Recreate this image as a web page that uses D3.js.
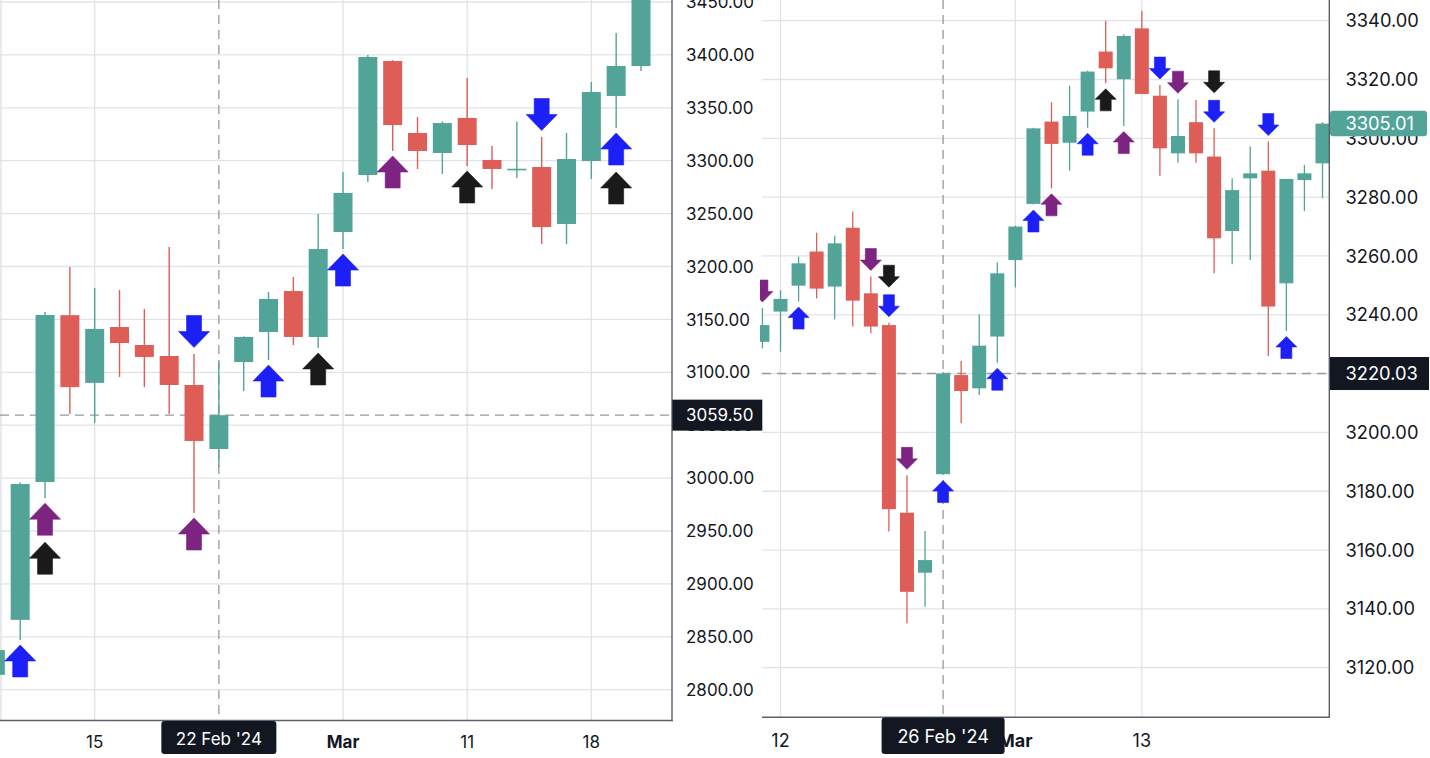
<!DOCTYPE html>
<html><head><meta charset="utf-8">
<script src="https://cdn.jsdelivr.net/npm/d3@7"></script>
<style>
body{margin:0;background:#fff;}
svg{display:block;}
text{font-family:Inter,"Noto Sans",sans-serif;}
</style>
</head><body>
<svg id="c" width="1430" height="758"></svg>
<script>
// ---------------- DATA ----------------
// Left chart: bar index -1..25
const leftIndex = [-1,0,1,2,3,4,5,6,7,8,9,10,11,12,13,14,15,16,17,18,19,20,21,22,23,24,25];
const leftOpen  = [2814,2866,2996.3,3154,3090,3142.8,3125.8,3115.4,3088,3027.5,3109.7,3138.1,3176.8,3133.4,3232.6,3286.5,3394.2,3326.2,3307.3,3340.4,3300.7,3291.6,3294,3240.2,3299.7,3361.2,3389.5];
const leftHigh  = [2840,2996,3157,3199.5,3179.7,3177.8,3159.8,3218.4,3117.3,3109.7,3134,3175.9,3190.1,3249.6,3289.3,3400,3395,3341.3,3337,3378.2,3313.9,3337,3322.4,3326.2,3374.4,3420.7,3480];
const leftLow   = [2810,2847,2981,3060.6,3052,3095.6,3086,3060.6,2967,3010.5,3082.3,3111.6,3125.8,3123,3216.5,3279.9,3309.2,3292.2,3287.4,3295,3273.3,3283.6,3221.3,3221.3,3282.7,3330.9,3384.8];
const leftClose = [2837.5,2994.4,3154.2,3086,3141,3127.7,3114.5,3088,3035.1,3059.5,3133.4,3169.3,3133.4,3216.5,3269.5,3398,3333.7,3309.2,3335.6,3314.8,3292.2,3292.4,3237.3,3301.6,3364.9,3389.5,3470];
const leftTicks = [{i:3,label:"15"},{i:13,label:"Mar",bold:true},{i:18,label:"11"},{i:23,label:"18"}];
const leftYTicks = d3.range(2800, 3451, 50);
const leftMarkers = [
  {i:0,pos:"below",color:"blue"},
  {i:1,pos:"below",color:"purple"},{i:1,pos:"below",color:"black"},
  {i:7,pos:"above",color:"blue"},{i:7,pos:"below",color:"purple"},
  {i:10,pos:"below",color:"blue"},
  {i:12,pos:"below",color:"black"},
  {i:13,pos:"below",color:"blue"},
  {i:15,pos:"below",color:"purple"},
  {i:18,pos:"below",color:"black"},
  {i:21,pos:"above",color:"blue"},
  {i:24,pos:"below",color:"blue"},{i:24,pos:"below",color:"black"}
];
const leftCrossIndex = 8, leftCrossPrice = 3059.50, leftCrossDate = "22 Feb '24";

// Right chart: bar index -1..30
const rightIndex = [-1,0,1,2,3,4,5,6,7,8,9,10,11,12,13,14,15,16,17,18,19,20,21,22,23,24,25,26,27,28,29,30];
const rightOpen  = [3230.8,3241.1,3249.9,3261.5,3249.6,3269.6,3247.3,3236.5,3172.7,3152.3,3185.8,3219.5,3215,3232.6,3258.6,3277.7,3305.7,3298.5,3309.1,3329.5,3320.1,3337.4,3314.5,3294.9,3305.5,3293.8,3268.5,3286.4,3289,3250.7,3285.8,3291.5];
const rightHigh  = [3242.3,3248.4,3259.8,3267.9,3266.9,3275.1,3253,3237.3,3185.4,3166.5,3220.5,3224.3,3240.2,3257.8,3270.3,3303.6,3312.3,3317.9,3323,3340,3335.4,3343.3,3318.1,3313.3,3313,3303.4,3286.4,3297.2,3298.9,3286.2,3290.9,3305.5];
const rightLow   = [3228.6,3227.4,3244.5,3245.6,3238.5,3236,3233.7,3166.3,3135.1,3140.7,3185.5,3203.1,3212.7,3223.7,3249.3,3277.5,3283,3289,3303.6,3318.7,3304.2,3315,3287.3,3291.7,3291.7,3254.1,3257.2,3258.6,3226,3234.5,3275.3,3279.6];
const rightClose = [3236.5,3245.4,3257.5,3248.9,3264.3,3244.8,3236,3173.9,3145.8,3156.6,3220.03,3214.1,3229.5,3254.1,3270,3303.4,3298.1,3307.6,3322.7,3323.8,3334.8,3315.1,3296.6,3300.8,3294.9,3266,3282.4,3288.1,3242.8,3286.2,3288.1,3305.01];
const rightTicks = [{i:0,label:"12"},{i:13,label:"Mar",bold:true},{i:20,label:"13"}];
const rightYTicks = d3.range(3120, 3341, 20);
const rightMarkers = [
  {i:-1,pos:"above",color:"purple"},
  {i:1,pos:"below",color:"blue"},
  {i:5,pos:"above",color:"purple"},
  {i:6,pos:"above",color:"blue"},{i:6,pos:"above",color:"black"},
  {i:7,pos:"above",color:"purple"},
  {i:9,pos:"below",color:"blue"},
  {i:12,pos:"below",color:"blue"},
  {i:14,pos:"below",color:"blue"},
  {i:15,pos:"below",color:"purple"},
  {i:17,pos:"below",color:"blue"},
  {i:18,pos:"below",color:"black"},
  {i:19,pos:"below",color:"purple"},
  {i:21,pos:"above",color:"blue"},
  {i:22,pos:"above",color:"purple"},
  {i:24,pos:"above",color:"blue"},{i:24,pos:"above",color:"black"},
  {i:27,pos:"above",color:"blue"},
  {i:28,pos:"below",color:"blue"}
];
const rightCrossIndex = 9, rightCrossPrice = 3220.03, rightCrossDate = "26 Feb '24";
const rightLastPrice = 3305.01;

// ---------------- STYLE ----------------
const UP = "#52a499", DOWN = "#de5e57";
const markerColors = {blue:"#1c20f6", purple:"#7d2382", black:"#1a1a1a"};
const GRID = "#e0e3e7", BORDER = "#5d606b", TEXT = "#131722", CROSS = "#9598a1", LABELBG = "#131722";

const svg = d3.select("#c");
svg.append("rect").attr("width",1430).attr("height",758).attr("fill","#fff");
const defs = svg.append("defs");

function arrowPath(cx, top, dir, w, h, headH, shaftW){
  // dir: "up" -> tip at top; "down" -> tip at bottom
  if(dir==="up"){
    return `M${cx},${top} L${cx+w/2},${top+headH} L${cx+shaftW/2},${top+headH} L${cx+shaftW/2},${top+h} L${cx-shaftW/2},${top+h} L${cx-shaftW/2},${top+headH} L${cx-w/2},${top+headH} Z`;
  } else {
    const b = top+h;
    return `M${cx},${b} L${cx+w/2},${b-headH} L${cx+shaftW/2},${b-headH} L${cx+shaftW/2},${top} L${cx-shaftW/2},${top} L${cx-shaftW/2},${b-headH} L${cx-w/2},${b-headH} Z`;
  }
}

function panel(cfg){
  const {id, index, open, high, low, close, x, y, plot, ticks, yTicks, markers, bodyW, wickW, arrow, fontY, fontX, cross} = cfg;
  const data = index.map((d,k)=>({i:d,o:open[k],h:high[k],l:low[k],c:close[k]}));
  defs.append("clipPath").attr("id","clip"+id).append("rect")
    .attr("x",plot.clipX0).attr("y",0).attr("width",plot.x1-plot.clipX0).attr("height",plot.y1);
  const g = svg.append("g");
  // horizontal grid
  g.append("g").selectAll("line").data(yTicks).join("line")
    .attr("x1",plot.x0).attr("x2",plot.x1).attr("y1",d=>y(d)).attr("y2",d=>y(d))
    .attr("stroke",GRID).attr("stroke-width",1.3);
  // vertical grid
  g.append("g").selectAll("line").data(ticks).join("line")
    .attr("x1",d=>x(d.i)).attr("x2",d=>x(d.i)).attr("y1",0).attr("y2",plot.y1)
    .attr("stroke",GRID).attr("stroke-width",1.3);
  if(plot.leftEdge!==undefined){
    g.append("line").attr("x1",plot.leftEdge).attr("x2",plot.leftEdge).attr("y1",0).attr("y2",plot.y1)
      .attr("stroke",GRID).attr("stroke-width",1.5);
  }
  const cg = g.append("g").attr("clip-path",`url(#clip${id})`);
  // crosshair lines
  cg.append("line").attr("x1",plot.x0).attr("x2",plot.x1).attr("y1",y(cross.price)).attr("y2",y(cross.price))
    .attr("stroke",CROSS).attr("stroke-width",1.3).attr("stroke-dasharray","9,6");
  cg.append("line").attr("x1",x(cross.index)).attr("x2",x(cross.index)).attr("y1",0).attr("y2",plot.y1)
    .attr("stroke",CROSS).attr("stroke-width",1.3).attr("stroke-dasharray","9,6");
  // candles
  const cd = cg.append("g").selectAll("g").data(data).join("g");
  cd.append("line").attr("x1",d=>x(d.i)).attr("x2",d=>x(d.i))
    .attr("y1",d=>y(d.h)).attr("y2",d=>y(d.l))
    .attr("stroke",d=>d.c>=d.o?UP:DOWN).attr("stroke-width",wickW);
  cd.append("rect").attr("x",d=>x(d.i)-bodyW/2).attr("width",bodyW)
    .attr("y",d=>y(Math.max(d.o,d.c)))
    .attr("height",d=>Math.max(1.6, Math.abs(y(d.o)-y(d.c))))
    .attr("fill",d=>d.c>=d.o?UP:DOWN);
  // markers
  const slots = {};
  const byIdx = new Map(data.map(d=>[d.i,d]));
  markers.forEach(m=>{
    const d = byIdx.get(m.i);
    const key = m.i+"_"+m.pos;
    const s = slots[key]||0; slots[key]=s+1;
    let top;
    if(m.pos==="below"){
      top = y(d.l) + arrow.gapBelow + s*(arrow.h+arrow.stack);
    } else {
      top = y(d.h) - arrow.gapAbove - arrow.h - s*(arrow.h+arrow.stack);
    }
    cg.append("path").attr("d",arrowPath(x(m.i), top, m.pos==="below"?"up":"down", arrow.w, arrow.h, arrow.headH, arrow.shaftW))
      .attr("fill",markerColors[m.color]).attr("stroke",markerColors[m.color]).attr("stroke-width",0.6).attr("stroke-linejoin","round");
  });
  // borders
  g.append("line").attr("x1",plot.x1).attr("x2",plot.x1).attr("y1",0).attr("y2",plot.y1+0.7)
    .attr("stroke",BORDER).attr("stroke-width",1.4);
  g.append("line").attr("x1",plot.x0).attr("x2",plot.x1+0.7).attr("y1",plot.y1).attr("y2",plot.y1)
    .attr("stroke",BORDER).attr("stroke-width",1.4);
  // y axis labels
  const fmt = d3.format(".2f");
  g.append("g").selectAll("text").data(yTicks).join("text")
    .attr("x",plot.labelX).attr("y",d=>y(d)).attr("dy","0.36em")
    .attr("font-size",fontY).attr("fill",TEXT).text(d=>fmt(d));
  // x axis labels
  g.append("g").selectAll("text").data(ticks).join("text")
    .attr("x",d=>x(d.i)).attr("y",plot.xLabelY).attr("dy","0.36em").attr("text-anchor","middle")
    .attr("font-size",fontX).attr("font-weight",d=>d.bold?700:400).attr("fill",TEXT).text(d=>d.label);
  return {g, fmt};
}

// ---------------- LEFT PANEL ----------------
const xL = d3.scaleLinear().domain([0,25]).range([20.2,641]);
const yL = d3.scaleLinear().domain([2800,3450]).range([689.7,2]);
const L = panel({id:"L", index:leftIndex, open:leftOpen, high:leftHigh, low:leftLow, close:leftClose,
  x:xL, y:yL, plot:{x0:0, clipX0:0, x1:672, y1:720.5, labelX:686, xLabelY:741.5, leftEdge:1},
  ticks:leftTicks, yTicks:leftYTicks, markers:leftMarkers, bodyW:19, wickW:1.4,
  arrow:{w:31,h:32,headH:16,shaftW:15,gapBelow:5,gapAbove:6.5,stack:7},
  fontY:17, fontX:17, cross:{index:leftCrossIndex, price:leftCrossPrice}});

// ---------------- RIGHT PANEL ----------------
const xR = d3.scaleLinear().domain([0,30]).range([780.5,1322.5]);
const yR = d3.scaleLinear().domain([3120,3340]).range([667.7,20.7]);
const R = panel({id:"R", index:rightIndex, open:rightOpen, high:rightHigh, low:rightLow, close:rightClose,
  x:xR, y:yR, plot:{x0:762, clipX0:760, x1:1329.3, y1:717.3, labelX:1345.5, xLabelY:740.5},
  ticks:rightTicks, yTicks:rightYTicks, markers:rightMarkers, bodyW:14, wickW:1.3,
  arrow:{w:21,h:22,headH:10.5,shaftW:11,gapBelow:5.5,gapAbove:6,stack:7.5},
  fontY:18.3, fontX:18, cross:{index:rightCrossIndex, price:rightCrossPrice}});

// ---------------- LABELS ON TOP ----------------
const fmt = d3.format(".2f");
function priceBox(x0, x1, yc, h, fill, txt, tx, fs, rx){
  const g = svg.append("g");
  g.append("rect").attr("x",x0).attr("y",yc-h/2).attr("width",x1-x0).attr("height",h).attr("rx",rx).attr("fill",fill);
  g.append("text").attr("x",tx).attr("y",yc).attr("dy","0.36em").attr("font-size",fs).attr("fill","#fff").text(txt);
}
function timeBox(cx, w, y0, y1, txt, fs){
  const g = svg.append("g");
  g.append("rect").attr("x",cx-w/2).attr("y",y0).attr("width",w).attr("height",y1-y0).attr("rx",3).attr("fill",LABELBG);
  g.append("text").attr("x",cx).attr("y",(y0+y1)/2+1).attr("dy","0.36em").attr("text-anchor","middle")
    .attr("font-size",fs).attr("fill","#fff").text(txt);
}
// left crosshair labels
priceBox(672.3, 762.3, yL(leftCrossPrice), 31, LABELBG, fmt(leftCrossPrice), 686, 17, 0);
timeBox(xL(leftCrossIndex), 115, 721, 754, leftCrossDate, 17);
// right last price + crosshair labels
priceBox(1330, 1427, yR(rightLastPrice), 25.5, UP, fmt(rightLastPrice), 1345.5, 18.3, 3);
priceBox(1330, 1429, yR(rightCrossPrice), 33, LABELBG, fmt(rightCrossPrice), 1345.5, 18.3, 0);
timeBox(xR(rightCrossIndex), 123, 717.5, 754, rightCrossDate, 18);
</script>
</body></html>
